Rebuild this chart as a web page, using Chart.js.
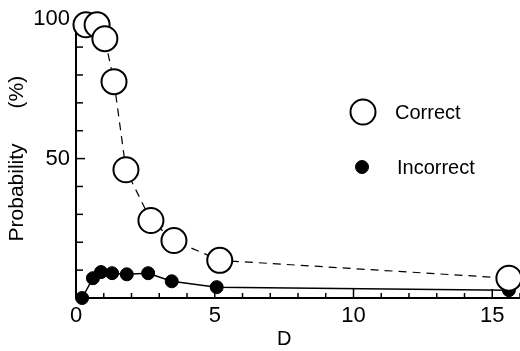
<!DOCTYPE html>
<html>
<head>
<meta charset="utf-8">
<script src="https://cdn.jsdelivr.net/npm/chart.js@4"></script>
<style>
  html, body { margin: 0; padding: 0; background: #fff; overflow: hidden; }
  #wrap { position: relative; width: 520px; height: 351px; }
</style>
</head>
<body>
<div id="wrap"><canvas id="chart"></canvas></div>
<script>
// values
const correctD = [0.36, 0.76, 1.04, 1.37, 1.8, 2.7, 3.53, 5.18, 15.6];
const correctP = [98, 98, 93, 77.6, 46, 27.8, 20.6, 13.5, 7.1];
const incorrectD = [0.22, 0.61, 0.9, 1.3, 1.83, 2.6, 3.45, 5.07, 15.6];
const incorrectP = [0, 7.1, 9.3, 8.9, 8.5, 8.9, 6, 3.9, 2.8];
const xTickLabels = [0, 5, 10, 15];
const yTickLabels = [50, 100];

const FONT = "'Liberation Sans', Arial, Helvetica, sans-serif";

// inward tick marks, like the original figure
const innerTicks = {
    id: 'innerTicks',
    beforeDatasetsDraw(chart) {
        const ctx = chart.ctx;
        const xs = chart.scales.x, ys = chart.scales.y;
        const area = chart.chartArea;
        ctx.save();
        ctx.strokeStyle = '#000';
        ctx.lineWidth = 1.5;
        for (let v = 1; v <= 16; v++) {
            const px = xs.getPixelForValue(v);
            const len = v % 5 === 0 ? 9 : 5;
            ctx.beginPath();
            ctx.moveTo(px, area.bottom);
            ctx.lineTo(px, area.bottom - len);
            ctx.stroke();
        }
        for (let v = 10; v <= 100; v += 10) {
            const py = ys.getPixelForValue(v);
            const len = v % 50 === 0 ? 9 : 7;
            ctx.beginPath();
            ctx.moveTo(area.left, py);
            ctx.lineTo(area.left + len, py);
            ctx.stroke();
        }
        ctx.restore();
    }
};

// legend placed inside the plot
const innerLegend = {
    id: 'innerLegend',
    afterDraw(chart) {
        const ctx = chart.ctx;
        const items = [
            { ds: chart.data.datasets[0], x: 363, y: 112, tx: 395 },
            { ds: chart.data.datasets[1], x: 362, y: 167, tx: 397 }
        ];
        ctx.save();
        items.forEach(it => {
            ctx.beginPath();
            ctx.arc(it.x, it.y, it.ds.pointRadius, 0, Math.PI * 2);
            ctx.fillStyle = it.ds.pointBackgroundColor;
            ctx.fill();
            ctx.lineWidth = it.ds.pointBorderWidth;
            ctx.strokeStyle = it.ds.pointBorderColor;
            ctx.stroke();
            ctx.fillStyle = '#000';
            ctx.font = '20px ' + FONT;
            ctx.textBaseline = 'middle';
            ctx.textAlign = 'left';
            ctx.fillText(it.ds.label, it.tx, it.y + 1);
        });
        ctx.restore();
    }
};

new Chart(document.getElementById('chart'), {
    type: 'scatter',
    data: {
        datasets: [{
            label: 'Correct',
            data: correctD.map((d, i) => ({ x: d, y: correctP[i] })),
            showLine: true,
            borderColor: '#000',
            borderWidth: 1.2,
            borderDash: [8, 6],
            pointRadius: 12.5,
            pointBorderWidth: 2,
            pointBorderColor: '#000',
            pointBackgroundColor: '#fff',
            clip: false
        }, {
            label: 'Incorrect',
            data: incorrectD.map((d, i) => ({ x: d, y: incorrectP[i] })),
            showLine: true,
            borderColor: '#000',
            borderWidth: 1.5,
            pointRadius: 6.5,
            pointBorderWidth: 1,
            pointBorderColor: '#000',
            pointBackgroundColor: '#000',
            clip: false
        }]
    },
    options: {
        responsive: true,
        maintainAspectRatio: false,
        animation: false,
        layout: { autoPadding: false, padding: { top: 17, right: 0, left: 0, bottom: 0 } },
        plugins: {
            legend: { display: false },
            tooltip: { enabled: false }
        },
        scales: {
            x: {
                type: 'linear',
                min: 0,
                max: 16,
                afterFit(scale) {
                    scale.height = 53;
                    scale.paddingLeft = 0;
                    scale.paddingRight = 0;
                },
                border: { display: true, color: '#000', width: 2 },
                grid: { drawOnChartArea: false, drawTicks: false },
                ticks: {
                    stepSize: 1,
                    padding: 5,
                    color: '#000',
                    font: { family: FONT, size: 22 },
                    maxRotation: 0,
                    autoSkip: false,
                    callback: v => xTickLabels.includes(v) ? String(v) : ''
                },
                title: {
                    display: true,
                    text: 'D     ',
                    color: '#000',
                    font: { family: FONT, size: 20 },
                    padding: { top: 2, bottom: 0 }
                }
            },
            y: {
                type: 'linear',
                min: 0,
                max: 100,
                afterFit(scale) { scale.width = 76; },
                border: { display: true, color: '#000', width: 2 },
                grid: { drawOnChartArea: false, drawTicks: false },
                ticks: {
                    stepSize: 10,
                    padding: 6,
                    color: '#000',
                    font: { family: FONT, size: 22 },
                    autoSkip: false,
                    callback: v => yTickLabels.includes(v) ? String(v) : ''
                },
                title: {
                    display: true,
                    text: 'Probability      (%)',
                    color: '#000',
                    font: { family: FONT, size: 21 },
                    padding: { top: 5, bottom: 0 }
                }
            }
        }
    },
    plugins: [innerTicks, innerLegend]
});
</script>
</body>
</html>
